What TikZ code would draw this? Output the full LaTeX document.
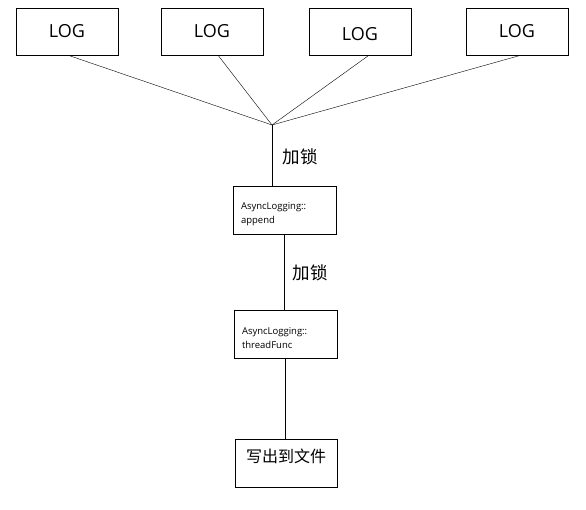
\documentclass[tikz,border=0pt]{standalone}
\usepackage{fontspec}
\setmainfont{Open Sans}
\newfontfamily\cjk{Noto Sans CJK SC}
\usetikzlibrary{positioning}

\begin{document}
\begin{tikzpicture}[x=1pt,y=-1pt,
  logbox/.style={draw,minimum width=102pt,minimum height=47pt,inner sep=0pt,font=\fontsize{18}{20}\selectfont},
  funcbox/.style={draw,minimum width=103pt,minimum height=48pt,text width=87pt,inner xsep=8pt,align=left,
    font=\fontsize{9.5}{13.5}\selectfont,execute at begin node={\rule{0pt}{15pt}}},
  lock/.style={font=\cjk\fontsize{17.5}{20}\selectfont}]

\useasboundingbox (0,0) rectangle (586,509);

\node (log1) at (67,31.5) [logbox] {LOG};
\node (log2) at (212,31.5) [logbox] {LOG};
\node (log3) at (360,31.5) [logbox,text height=19pt] {LOG};
\node (log4) at (517,31.5) [logbox] {LOG};

\coordinate (j) at (272,125);

\draw ([xshift=1pt]log1.south) -- (j);
\draw ([xshift=6pt]log2.south) -- (j);
\draw ([xshift=9pt]log3.south) -- (j);
\draw ([xshift=4pt]log4.south) -- (j);

\node (append) at (284.5,210) [funcbox] {AsyncLogging::\\append};
\node (thread) at (285.5,334) [funcbox] {AsyncLogging::\\threadFunc};
\node (file) at (286,463) [draw,minimum width=102pt,inner xsep=0pt,inner ysep=8pt,text height=15pt,text depth=17pt,font=\cjk\fontsize{16}{18}\selectfont] {写出到文件};

\draw (j) -- (j |- append.north);
\draw (append.south) -- (append.south |- thread.north);
\draw (thread.south) -- (thread.south |- file.north);

\node (lock1) at (300,157) [lock] {加锁};
\node (lock2) at (310,273) [lock] {加锁};

\end{tikzpicture}
\end{document}
